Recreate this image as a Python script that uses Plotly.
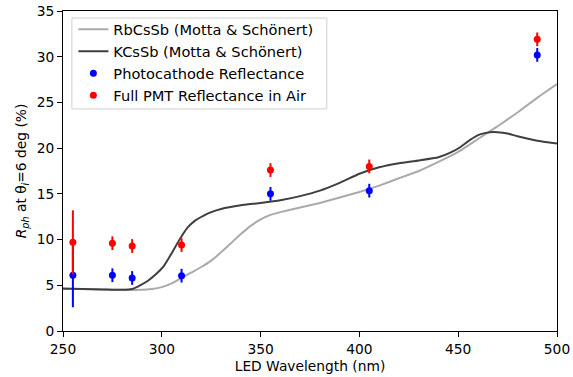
import plotly.graph_objects as go

# Model curves (Motta & Schönert)
rb_x = [250, 260, 270, 280, 290, 295, 300, 305, 310, 315, 320, 325, 330, 335, 340, 345, 350, 355, 360,
        370, 380, 390, 400, 410, 420, 430, 440, 450, 460, 470, 480, 490, 500]
rb_y = [4.6, 4.6, 4.55, 4.5, 4.5, 4.6, 4.8, 5.2, 5.8, 6.4, 7.0, 7.7, 8.6, 9.6, 10.6, 11.5, 12.2, 12.7, 13.0,
        13.5, 14.0, 14.6, 15.2, 15.9, 16.7, 17.5, 18.5, 19.6, 21.0, 22.4, 23.9, 25.5, 27.0]

k_x = [250, 260, 270, 280, 285, 289, 293, 297, 301, 305, 309, 313, 317, 321, 325, 330, 340, 350, 360, 370,
       380, 390, 400, 410, 420, 430, 440, 446, 451, 456, 461, 466, 470, 475, 480, 490, 500]
k_y = [4.65, 4.6, 4.55, 4.5, 4.6, 5.0, 5.5, 6.2, 7.1, 8.5, 10.0, 11.3, 12.1, 12.6, 13.0, 13.35, 13.75, 14.0, 14.3, 14.75,
       15.35, 16.2, 17.2, 17.9, 18.35, 18.65, 19.0, 19.5, 20.1, 20.9, 21.5, 21.75, 21.75, 21.6, 21.3, 20.8, 20.5]

# Measurements
led_wl = [255, 275, 285, 310, 355, 405, 490]
pc_refl = [6.1, 6.1, 5.8, 6.05, 15.0, 15.35, 30.2]
pc_err = [3.5, 0.75, 0.75, 0.75, 0.75, 0.75, 0.75]
pmt_refl = [9.7, 9.6, 9.3, 9.4, 17.6, 18.0, 31.9]
pmt_err = [3.5, 0.75, 0.75, 0.75, 0.75, 0.75, 0.75]

fig = go.Figure()
fig.add_trace(go.Scatter(x=rb_x, y=rb_y, mode="lines", name="RbCsSb (Motta & Schönert)",
                         line=dict(color="#aaaaaa", width=2, shape="spline", smoothing=0.4)))
fig.add_trace(go.Scatter(x=k_x, y=k_y, mode="lines", name="KCsSb (Motta & Schönert)",
                         line=dict(color="#3f3f3f", width=2, shape="spline", smoothing=0.4)))
fig.add_trace(go.Scatter(x=led_wl, y=pc_refl, mode="markers", name="Photocathode Reflectance",
                         marker=dict(color="blue", size=7),
                         error_y=dict(type="data", array=pc_err, color="blue", thickness=2, width=0)))
fig.add_trace(go.Scatter(x=led_wl, y=pmt_refl, mode="markers", name="Full PMT Reflectance in Air",
                         marker=dict(color="red", size=7),
                         error_y=dict(type="data", array=pmt_err, color="red", thickness=2, width=0)))

# legend frame (matplotlib-style box)
fig.add_shape(type="rect", xref="paper", yref="paper", x0=0.018, x1=0.534, y0=0.694, y1=0.978,
              line=dict(color="#d0d0d0", width=1), fillcolor="rgba(255,255,255,0.8)", layer="below")

axis_common = dict(showline=True, linecolor="black", linewidth=1, mirror=True, automargin=False,
                   ticks="outside", ticklen=5, tickcolor="black", showgrid=False, zeroline=False,
                   tickfont=dict(size=13.8, color="black"))
fig.update_layout(
    width=573, height=377,
    margin=dict(l=63, r=16, t=11, b=46),
    paper_bgcolor="white", plot_bgcolor="white",
    font=dict(family="DejaVu Sans", size=13.8, color="black"),
    showlegend=True,
    legend=dict(x=0.021, y=0.993, xanchor="left", yanchor="top",
                bgcolor="rgba(0,0,0,0)", borderwidth=0,
                font=dict(size=14.6), tracegroupgap=0),
    xaxis=dict(range=[250, 500], tickvals=[250, 300, 350, 400, 450, 500],
               title=dict(text="LED Wavelength (nm)", standoff=5, font=dict(size=13.8)), **axis_common),
    yaxis=dict(range=[0, 35], tickvals=[0, 5, 10, 15, 20, 25, 30, 35],
               title=dict(text="<i>R<sub>ph</sub></i> at θ<sub><i>i</i></sub>=6 deg (%)", standoff=6,
                          font=dict(size=13.8)),
               **axis_common),
)
fig.write_html("out.html")
